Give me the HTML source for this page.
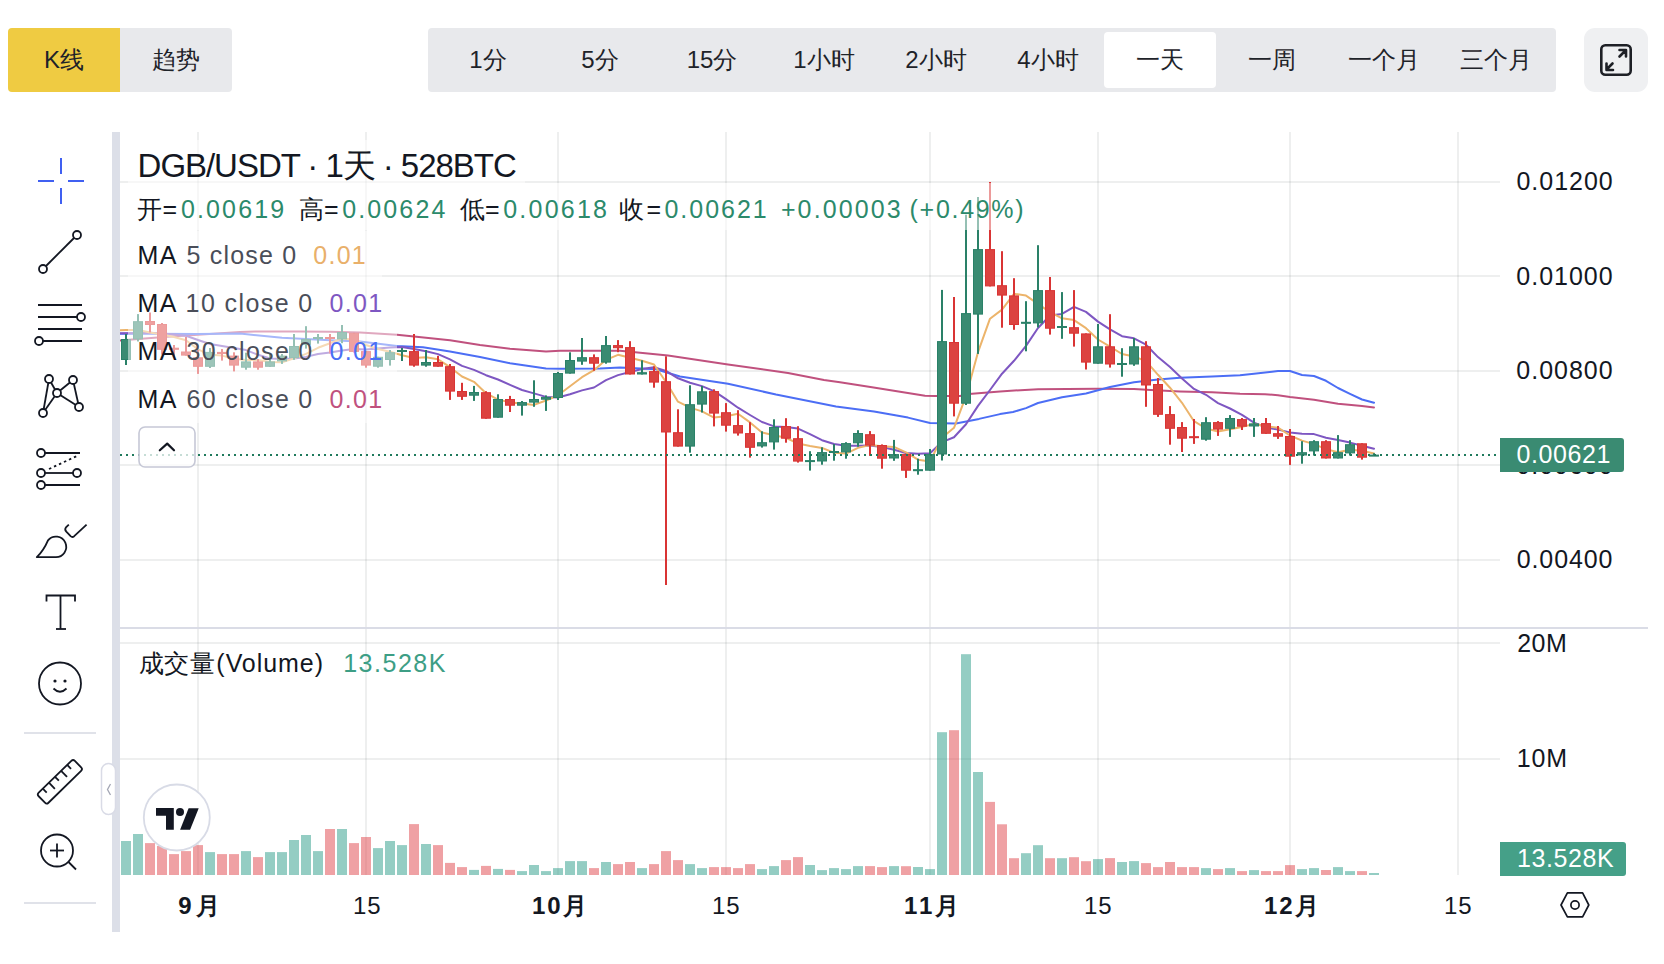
<!DOCTYPE html>
<html><head><meta charset="utf-8"><title>DGB/USDT</title>
<style>
*{box-sizing:border-box;margin:0;padding:0}
html,body{width:1664px;height:964px;overflow:hidden;background:#fff}
body{position:relative;font-family:"Liberation Sans",sans-serif;color:#131722}
.abs{position:absolute}
.chart,.icons{position:absolute;left:0;top:0}
.btn{position:absolute;top:28px;height:64px;line-height:64px;text-align:center;font-size:24px;color:#1e2329}
.per{position:absolute;top:28px;height:64px;line-height:64px;width:112px;text-align:center;font-size:24px;color:#1e2329}
.ov{position:absolute;background:rgba(255,255,255,0.5)}
.t{position:absolute;white-space:nowrap;line-height:1}
.lg{font-size:25px;color:#4a4e59}
.lg b{font-weight:normal;color:#131722}
.ax{position:absolute;font-size:24px;color:#131722;white-space:nowrap;line-height:1}
.g{color:#2c8a6b}
</style></head><body>
<!-- top toolbar -->
<div class="btn" style="left:8px;width:112px;background:#efcb42;border-radius:4px 0 0 4px">K线</div>
<div class="btn" style="left:120px;width:112px;background:#e8e9ec;border-radius:0 4px 4px 0">趋势</div>
<div class="abs" style="left:428px;top:28px;width:1128px;height:64px;background:#e8e9ec;border-radius:4px"></div>
<div class="abs" style="left:1104px;top:32px;width:112px;height:56px;background:#fff;border-radius:4px"></div>
<div class="per" style="left:432px">1分</div>
<div class="per" style="left:544px">5分</div>
<div class="per" style="left:656px">15分</div>
<div class="per" style="left:768px">1小时</div>
<div class="per" style="left:880px">2小时</div>
<div class="per" style="left:992px">4小时</div>
<div class="per" style="left:1104px">一天</div>
<div class="per" style="left:1216px">一周</div>
<div class="per" style="left:1328px">一个月</div>
<div class="per" style="left:1440px">三个月</div>
<div class="abs" style="left:1584px;top:28px;width:64px;height:64px;background:#eff0f2;border-radius:11px"></div>
<!-- sidebar bar -->
<div class="abs" style="left:112px;top:132px;width:8px;height:800px;background:#dcdfe8"></div>
<svg class="chart" width="1664" height="964" viewBox="0 0 1664 964">
<rect x="197" y="132" width="2" height="743" fill="rgba(0,20,10,0.067)"/>
<rect x="365" y="132" width="2" height="743" fill="rgba(0,20,10,0.067)"/>
<rect x="557" y="132" width="2" height="743" fill="rgba(0,20,10,0.067)"/>
<rect x="725" y="132" width="2" height="743" fill="rgba(0,20,10,0.067)"/>
<rect x="929" y="132" width="2" height="743" fill="rgba(0,20,10,0.067)"/>
<rect x="1097" y="132" width="2" height="743" fill="rgba(0,20,10,0.067)"/>
<rect x="1289" y="132" width="2" height="743" fill="rgba(0,20,10,0.067)"/>
<rect x="1457" y="132" width="2" height="743" fill="rgba(0,20,10,0.067)"/>
<rect x="120" y="181" width="1380" height="2" fill="rgba(0,20,10,0.067)"/>
<rect x="120" y="275" width="1380" height="2" fill="rgba(0,20,10,0.067)"/>
<rect x="120" y="370" width="1380" height="2" fill="rgba(0,20,10,0.067)"/>
<rect x="120" y="464" width="1380" height="2" fill="rgba(0,20,10,0.067)"/>
<rect x="120" y="559" width="1380" height="2" fill="rgba(0,20,10,0.067)"/>
<rect x="120" y="642" width="1380" height="2" fill="rgba(0,20,10,0.067)"/>
<rect x="120" y="758" width="1380" height="2" fill="rgba(0,20,10,0.067)"/>
<rect x="120" y="627" width="1528" height="2" fill="#dadce6"/>
<rect x="121" y="841" width="10" height="34" fill="rgba(41,155,135,0.5)"/>
<rect x="133" y="834" width="10" height="41" fill="rgba(41,155,135,0.5)"/>
<rect x="145" y="843.1" width="10" height="31.9" fill="rgba(223,67,73,0.5)"/>
<rect x="157" y="846" width="10" height="29" fill="rgba(223,67,73,0.5)"/>
<rect x="169" y="854.1" width="10" height="20.9" fill="rgba(223,67,73,0.5)"/>
<rect x="181" y="851.1" width="10" height="23.9" fill="rgba(223,67,73,0.5)"/>
<rect x="193" y="845.1" width="10" height="29.9" fill="rgba(223,67,73,0.5)"/>
<rect x="205" y="852.1" width="10" height="22.9" fill="rgba(41,155,135,0.5)"/>
<rect x="217" y="854.1" width="10" height="20.9" fill="rgba(223,67,73,0.5)"/>
<rect x="229" y="854.1" width="10" height="20.9" fill="rgba(223,67,73,0.5)"/>
<rect x="241" y="851.1" width="10" height="23.9" fill="rgba(41,155,135,0.5)"/>
<rect x="253" y="857.1" width="10" height="17.9" fill="rgba(223,67,73,0.5)"/>
<rect x="265" y="852.1" width="10" height="22.9" fill="rgba(41,155,135,0.5)"/>
<rect x="277" y="852.1" width="10" height="22.9" fill="rgba(41,155,135,0.5)"/>
<rect x="289" y="840" width="10" height="35" fill="rgba(41,155,135,0.5)"/>
<rect x="301" y="835" width="10" height="40" fill="rgba(41,155,135,0.5)"/>
<rect x="313" y="851.1" width="10" height="23.9" fill="rgba(41,155,135,0.5)"/>
<rect x="325" y="829" width="10" height="46" fill="rgba(223,67,73,0.5)"/>
<rect x="337" y="829" width="10" height="46" fill="rgba(41,155,135,0.5)"/>
<rect x="349" y="843.1" width="10" height="31.9" fill="rgba(223,67,73,0.5)"/>
<rect x="361" y="837" width="10" height="38" fill="rgba(223,67,73,0.5)"/>
<rect x="373" y="848.1" width="10" height="26.9" fill="rgba(41,155,135,0.5)"/>
<rect x="385" y="841" width="10" height="34" fill="rgba(41,155,135,0.5)"/>
<rect x="397" y="845.1" width="10" height="29.9" fill="rgba(41,155,135,0.5)"/>
<rect x="409" y="824.1" width="10" height="50.9" fill="rgba(223,67,73,0.5)"/>
<rect x="421" y="844" width="10" height="31" fill="rgba(41,155,135,0.5)"/>
<rect x="433" y="845.1" width="10" height="29.9" fill="rgba(223,67,73,0.5)"/>
<rect x="445" y="862.9" width="10" height="12.1" fill="rgba(223,67,73,0.5)"/>
<rect x="457" y="867.1" width="10" height="7.9" fill="rgba(223,67,73,0.5)"/>
<rect x="469" y="869.9" width="10" height="5.1" fill="rgba(41,155,135,0.5)"/>
<rect x="481" y="865.9" width="10" height="9.1" fill="rgba(223,67,73,0.5)"/>
<rect x="493" y="868.9" width="10" height="6.1" fill="rgba(41,155,135,0.5)"/>
<rect x="505" y="869.9" width="10" height="5.1" fill="rgba(223,67,73,0.5)"/>
<rect x="517" y="871.1" width="10" height="3.9" fill="rgba(41,155,135,0.5)"/>
<rect x="529" y="865" width="10" height="10" fill="rgba(41,155,135,0.5)"/>
<rect x="541" y="871.1" width="10" height="3.9" fill="rgba(41,155,135,0.5)"/>
<rect x="553" y="868.1" width="10" height="6.9" fill="rgba(41,155,135,0.5)"/>
<rect x="565" y="861.1" width="10" height="13.9" fill="rgba(41,155,135,0.5)"/>
<rect x="577" y="861.1" width="10" height="13.9" fill="rgba(41,155,135,0.5)"/>
<rect x="589" y="868.1" width="10" height="6.9" fill="rgba(223,67,73,0.5)"/>
<rect x="601" y="862" width="10" height="13" fill="rgba(41,155,135,0.5)"/>
<rect x="613" y="864.1" width="10" height="10.9" fill="rgba(223,67,73,0.5)"/>
<rect x="625" y="862" width="10" height="13" fill="rgba(223,67,73,0.5)"/>
<rect x="637" y="868.1" width="10" height="6.9" fill="rgba(41,155,135,0.5)"/>
<rect x="649" y="864.1" width="10" height="10.9" fill="rgba(223,67,73,0.5)"/>
<rect x="661" y="851.1" width="10" height="23.9" fill="rgba(223,67,73,0.5)"/>
<rect x="673" y="860.1" width="10" height="14.9" fill="rgba(223,67,73,0.5)"/>
<rect x="685" y="864.1" width="10" height="10.9" fill="rgba(41,155,135,0.5)"/>
<rect x="697" y="868.1" width="10" height="6.9" fill="rgba(41,155,135,0.5)"/>
<rect x="709" y="867.1" width="10" height="7.9" fill="rgba(223,67,73,0.5)"/>
<rect x="721" y="867.1" width="10" height="7.9" fill="rgba(223,67,73,0.5)"/>
<rect x="733" y="868.1" width="10" height="6.9" fill="rgba(223,67,73,0.5)"/>
<rect x="745" y="864.1" width="10" height="10.9" fill="rgba(223,67,73,0.5)"/>
<rect x="757" y="869.1" width="10" height="5.9" fill="rgba(41,155,135,0.5)"/>
<rect x="769" y="866.1" width="10" height="8.9" fill="rgba(41,155,135,0.5)"/>
<rect x="781" y="860.1" width="10" height="14.9" fill="rgba(223,67,73,0.5)"/>
<rect x="793" y="857.1" width="10" height="17.9" fill="rgba(223,67,73,0.5)"/>
<rect x="805" y="865" width="10" height="10" fill="rgba(41,155,135,0.5)"/>
<rect x="817" y="870.1" width="10" height="4.9" fill="rgba(41,155,135,0.5)"/>
<rect x="829" y="868.1" width="10" height="6.9" fill="rgba(41,155,135,0.5)"/>
<rect x="841" y="869.1" width="10" height="5.9" fill="rgba(41,155,135,0.5)"/>
<rect x="853" y="866.1" width="10" height="8.9" fill="rgba(41,155,135,0.5)"/>
<rect x="865" y="866.1" width="10" height="8.9" fill="rgba(223,67,73,0.5)"/>
<rect x="877" y="867.1" width="10" height="7.9" fill="rgba(223,67,73,0.5)"/>
<rect x="889" y="866.1" width="10" height="8.9" fill="rgba(41,155,135,0.5)"/>
<rect x="901" y="866.2" width="10" height="8.8" fill="rgba(223,67,73,0.5)"/>
<rect x="913" y="867" width="10" height="8" fill="rgba(41,155,135,0.5)"/>
<rect x="925" y="869.1" width="10" height="5.9" fill="rgba(41,155,135,0.5)"/>
<rect x="937" y="732.2" width="10" height="142.8" fill="rgba(41,155,135,0.5)"/>
<rect x="949" y="730.2" width="10" height="144.8" fill="rgba(223,67,73,0.5)"/>
<rect x="961" y="654.2" width="10" height="220.8" fill="rgba(41,155,135,0.5)"/>
<rect x="973" y="772" width="10" height="103" fill="rgba(41,155,135,0.5)"/>
<rect x="985" y="801.9" width="10" height="73.1" fill="rgba(223,67,73,0.5)"/>
<rect x="997" y="824.3" width="10" height="50.7" fill="rgba(223,67,73,0.5)"/>
<rect x="1009" y="858.2" width="10" height="16.8" fill="rgba(223,67,73,0.5)"/>
<rect x="1021" y="853.2" width="10" height="21.8" fill="rgba(41,155,135,0.5)"/>
<rect x="1033" y="845.2" width="10" height="29.8" fill="rgba(41,155,135,0.5)"/>
<rect x="1045" y="858.2" width="10" height="16.8" fill="rgba(223,67,73,0.5)"/>
<rect x="1057" y="858.2" width="10" height="16.8" fill="rgba(41,155,135,0.5)"/>
<rect x="1069" y="857.2" width="10" height="17.8" fill="rgba(223,67,73,0.5)"/>
<rect x="1081" y="861.2" width="10" height="13.8" fill="rgba(223,67,73,0.5)"/>
<rect x="1093" y="859.1" width="10" height="15.9" fill="rgba(41,155,135,0.5)"/>
<rect x="1105" y="858.1" width="10" height="16.9" fill="rgba(223,67,73,0.5)"/>
<rect x="1117" y="862" width="10" height="13" fill="rgba(41,155,135,0.5)"/>
<rect x="1129" y="861.1" width="10" height="13.9" fill="rgba(41,155,135,0.5)"/>
<rect x="1141" y="863.1" width="10" height="11.9" fill="rgba(223,67,73,0.5)"/>
<rect x="1153" y="867.1" width="10" height="7.9" fill="rgba(223,67,73,0.5)"/>
<rect x="1165" y="862" width="10" height="13" fill="rgba(223,67,73,0.5)"/>
<rect x="1177" y="867.1" width="10" height="7.9" fill="rgba(223,67,73,0.5)"/>
<rect x="1189" y="867.1" width="10" height="7.9" fill="rgba(223,67,73,0.5)"/>
<rect x="1201" y="868.1" width="10" height="6.9" fill="rgba(41,155,135,0.5)"/>
<rect x="1213" y="869.1" width="10" height="5.9" fill="rgba(223,67,73,0.5)"/>
<rect x="1225" y="868.1" width="10" height="6.9" fill="rgba(41,155,135,0.5)"/>
<rect x="1237" y="871.1" width="10" height="3.9" fill="rgba(223,67,73,0.5)"/>
<rect x="1249" y="870.1" width="10" height="4.9" fill="rgba(41,155,135,0.5)"/>
<rect x="1261" y="871.1" width="10" height="3.9" fill="rgba(223,67,73,0.5)"/>
<rect x="1273" y="871.1" width="10" height="3.9" fill="rgba(223,67,73,0.5)"/>
<rect x="1285" y="865.1" width="10" height="9.9" fill="rgba(223,67,73,0.5)"/>
<rect x="1297" y="869.1" width="10" height="5.9" fill="rgba(41,155,135,0.5)"/>
<rect x="1309" y="868.1" width="10" height="6.9" fill="rgba(41,155,135,0.5)"/>
<rect x="1321" y="870" width="10" height="5" fill="rgba(223,67,73,0.5)"/>
<rect x="1333" y="867.1" width="10" height="7.9" fill="rgba(41,155,135,0.5)"/>
<rect x="1345" y="871.1" width="10" height="3.9" fill="rgba(41,155,135,0.5)"/>
<rect x="1357" y="871.1" width="10" height="3.9" fill="rgba(223,67,73,0.5)"/>
<rect x="1369" y="873" width="10" height="2" fill="rgba(41,155,135,0.5)"/>
<defs><clipPath id="cp"><rect x="120" y="132" width="1380" height="495"/></clipPath></defs>
<g fill="none" stroke-width="2" stroke-linejoin="round" stroke-linecap="round" clip-path="url(#cp)">
<polyline points="114,340.8 126,340 167,336.8 198,334.8 240,332 255,331.6 300,331.5 330,331.7 360,332.4 397,334.7 414,336.6 450,340.3 480,345 510,348.7 546,351.5 560,350.8 620,350.8 668,355.6 728,364.5 788,372.9 824,380 840,382.3 872,387.3 925,395.7 935,396 960,396 969,393.9 1000,391.4 1038,389.2 1097,388.7 1134,389 1151,390 1180,391.4 1212,392.3 1240,393.8 1265,394.2 1278,395.2 1290,397.1 1314,399.8 1338,403.7 1362,406 1374,407.5" stroke="#c0517e"/>
<polyline points="114,334 126,333.5 150,333.8 198,334 240,333.6 282,337.8 306,339 330,340.3 360,341.5 397,346 423,347.3 450,351.5 480,357 510,363.2 546,368.4 560,368.8 600,368.6 620,367.4 656,369.3 680,376.5 728,383.7 776,394.5 836,406.5 874,411.4 908,417.6 930,423 956,423.4 979,418.9 1000,414.1 1013,412 1026,408.1 1038,403 1062,397.3 1086,393.5 1110,387 1134,382.2 1158,379.5 1180,377.8 1212,376.4 1240,375.2 1254,373.8 1278,371 1290,371 1302,375 1314,376 1326,380.8 1338,388 1350,393.8 1362,399.5 1374,402.7" stroke="#4c6ef5"/>
<polyline points="114,333.2 126,333.2 138,333 150,332.8 162,333.5 174,334.5 186,335.7 198,340 210,344 222,346 234,347.9 246,350.1 258,354.8 270,358.4 282,359 294,358.6 306,356.9 318,354 330,352.6 342,350.4 354,349.1 366,349.5 378,348.4 390,347.5 402,346.9 414,348.9 426,351.2 438,354.1 450,359.4 462,365.9 474,369.9 486,375.2 498,379.5 510,384.8 522,390 534,393.4 546,396.9 558,397.5 570,394.3 582,390.4 594,387.5 606,380.2 618,375.1 630,372 642,369 654,367.3 666,370.9 678,378.3 690,382.7 702,386.1 714,391.1 726,399.1 738,407.7 750,415 762,422 774,426.4 786,427.1 798,428.6 810,434.1 822,440.2 834,444 846,445.7 858,445.7 870,445.4 882,447.1 894,449.8 906,453 918,453.8 930,453.2 942,442.1 954,437.3 966,424.3 978,405.9 990,390 1002,373.7 1014,360.8 1026,345.9 1038,328 1050,315.5 1062,313.9 1074,306.9 1086,311.9 1098,321.6 1110,329.4 1122,336.2 1134,338.3 1146,344.7 1158,357.1 1170,367.1 1182,378.4 1194,388.9 1206,394.8 1218,403.1 1230,408.5 1242,414.9 1254,422.6 1266,427.4 1278,429.6 1290,432.4 1302,433.7 1314,434.1 1326,437.7 1338,439.9 1350,442.6 1362,445.7 1374,448.8" stroke="#7e57c2"/>
<polyline points="114,330.6 126,330 138,330 150,332.5 162,334.5 174,337 186,340.3 198,349.4 210,354.8 222,355.6 234,358.8 246,359.9 258,360.1 270,362 282,362.3 294,358.4 306,353.9 318,347.8 330,343.2 342,338.5 354,339.7 366,345 378,349 390,351.7 402,355.3 414,358 426,357.3 438,359.3 450,367.2 462,376.5 474,381.8 486,393.2 498,399.6 510,402.4 522,403.5 534,404.9 546,400.5 558,395.3 570,386.2 582,377.2 594,370.2 606,359.8 618,354.8 630,357.7 642,360.7 654,364.5 666,382 678,401.7 690,407.6 702,411.4 714,417.6 726,416.3 738,413.7 750,422.4 762,432.6 774,435.2 786,437.8 798,443.5 810,445.9 822,447.9 834,452.7 846,453.6 858,447.9 870,445 882,446.3 894,446.9 906,452.4 918,459.7 930,461.4 942,437.8 954,427.8 966,396.2 978,352.2 990,318.7 1002,309.6 1014,293.8 1026,295.6 1038,303.8 1050,312.2 1062,318.3 1074,320.1 1086,328.2 1098,339.5 1110,346.6 1122,354 1134,356.5 1146,361.1 1158,374.8 1170,387.7 1182,402.8 1194,421.2 1206,428.5 1218,431.5 1230,429.3 1242,426.9 1254,424 1266,426.3 1278,427.7 1290,435.5 1302,440.6 1314,444.1 1326,449.1 1338,452.2 1350,449.7 1362,450.8 1374,453.4" stroke="#ecb46b"/>
</g>
<rect x="125" y="334" width="2" height="31" fill="#2a8168"/>
<rect x="121.5" y="339.5" width="9" height="20" fill="#3a8b72" stroke="#2a8168" stroke-width="1"/>
<rect x="137" y="314.1" width="2" height="27.4" fill="#2a8168"/>
<rect x="133.5" y="321.7" width="9" height="17.2" fill="#3a8b72" stroke="#2a8168" stroke-width="1"/>
<rect x="149" y="312.5" width="2" height="19.9" fill="#d93434"/>
<rect x="145.5" y="321.5" width="9" height="3" fill="#dc4340" stroke="#d93434" stroke-width="1"/>
<rect x="161" y="323" width="2" height="31.6" fill="#d93434"/>
<rect x="157.5" y="324.5" width="9" height="24.8" fill="#dc4340" stroke="#d93434" stroke-width="1"/>
<rect x="173" y="345" width="2" height="12.7" fill="#d93434"/>
<rect x="169.5" y="348.2" width="9" height="1.1" fill="#dc4340" stroke="#d93434" stroke-width="1"/>
<rect x="185" y="337" width="2" height="18.6" fill="#d93434"/>
<rect x="181.5" y="352" width="9" height="3.1" fill="#dc4340" stroke="#d93434" stroke-width="1"/>
<rect x="197" y="349.8" width="2" height="24.1" fill="#d93434"/>
<rect x="193.5" y="357.8" width="9" height="8.5" fill="#dc4340" stroke="#d93434" stroke-width="1"/>
<rect x="209" y="348" width="2" height="20" fill="#2a8168"/>
<rect x="205.5" y="352.4" width="9" height="13.9" fill="#3a8b72" stroke="#2a8168" stroke-width="1"/>
<rect x="221" y="349" width="2" height="11.6" fill="#d93434"/>
<rect x="217.5" y="352.4" width="9" height="1.1" fill="#dc4340" stroke="#d93434" stroke-width="1"/>
<rect x="233" y="352.3" width="2" height="19.1" fill="#d93434"/>
<rect x="229.5" y="356.1" width="9" height="9" fill="#dc4340" stroke="#d93434" stroke-width="1"/>
<rect x="245" y="352.7" width="2" height="17" fill="#2a8168"/>
<rect x="241.5" y="361.9" width="9" height="5.3" fill="#3a8b72" stroke="#2a8168" stroke-width="1"/>
<rect x="257" y="359" width="2" height="10.7" fill="#d93434"/>
<rect x="253.5" y="361.9" width="9" height="5.3" fill="#dc4340" stroke="#d93434" stroke-width="1"/>
<rect x="269" y="354" width="2" height="12.8" fill="#2a8168"/>
<rect x="265.5" y="361.9" width="9" height="4.4" fill="#3a8b72" stroke="#2a8168" stroke-width="1"/>
<rect x="281" y="354" width="2" height="9.9" fill="#2a8168"/>
<rect x="277.5" y="356.1" width="9" height="4.8" fill="#3a8b72" stroke="#2a8168" stroke-width="1"/>
<rect x="293" y="334" width="2" height="25.8" fill="#2a8168"/>
<rect x="289.5" y="346.5" width="9" height="11.1" fill="#3a8b72" stroke="#2a8168" stroke-width="1"/>
<rect x="305" y="326.2" width="2" height="22.4" fill="#2a8168"/>
<rect x="301.5" y="339.5" width="9" height="4.8" fill="#3a8b72" stroke="#2a8168" stroke-width="1"/>
<rect x="317" y="334" width="2" height="9.6" fill="#2a8168"/>
<rect x="313.5" y="337.5" width="9" height="1" fill="#3a8b72" stroke="#2a8168" stroke-width="1"/>
<rect x="329" y="334" width="2" height="19.5" fill="#d93434"/>
<rect x="325.5" y="337.5" width="9" height="1" fill="#dc4340" stroke="#d93434" stroke-width="1"/>
<rect x="341" y="325" width="2" height="18.2" fill="#2a8168"/>
<rect x="337.5" y="332.5" width="9" height="6.4" fill="#3a8b72" stroke="#2a8168" stroke-width="1"/>
<rect x="353" y="332.8" width="2" height="19.7" fill="#d93434"/>
<rect x="349.5" y="333.3" width="9" height="18.1" fill="#dc4340" stroke="#d93434" stroke-width="1"/>
<rect x="365" y="351.1" width="2" height="16.6" fill="#d93434"/>
<rect x="361.5" y="351.6" width="9" height="13.5" fill="#dc4340" stroke="#d93434" stroke-width="1"/>
<rect x="377" y="356.8" width="2" height="10.9" fill="#2a8168"/>
<rect x="373.5" y="357.3" width="9" height="8.9" fill="#3a8b72" stroke="#2a8168" stroke-width="1"/>
<rect x="389" y="350" width="2" height="15.6" fill="#2a8168"/>
<rect x="385.5" y="352.7" width="9" height="6.8" fill="#3a8b72" stroke="#2a8168" stroke-width="1"/>
<rect x="401" y="348" width="2" height="13" fill="#2a8168"/>
<rect x="397.5" y="350.5" width="9" height="1" fill="#3a8b72" stroke="#2a8168" stroke-width="1"/>
<rect x="413" y="334" width="2" height="32.7" fill="#d93434"/>
<rect x="409.5" y="351.6" width="9" height="13.5" fill="#dc4340" stroke="#d93434" stroke-width="1"/>
<rect x="425" y="350" width="2" height="16.7" fill="#2a8168"/>
<rect x="421.5" y="362.5" width="9" height="2.6" fill="#3a8b72" stroke="#2a8168" stroke-width="1"/>
<rect x="437" y="355.8" width="2" height="10.9" fill="#d93434"/>
<rect x="433.5" y="362.5" width="9" height="3.7" fill="#dc4340" stroke="#d93434" stroke-width="1"/>
<rect x="449" y="364" width="2" height="35.9" fill="#d93434"/>
<rect x="445.5" y="366.7" width="9" height="24.4" fill="#dc4340" stroke="#d93434" stroke-width="1"/>
<rect x="461" y="382.8" width="2" height="17.1" fill="#d93434"/>
<rect x="457.5" y="391.5" width="9" height="4.8" fill="#dc4340" stroke="#d93434" stroke-width="1"/>
<rect x="473" y="385.9" width="2" height="15" fill="#2a8168"/>
<rect x="469.5" y="392.5" width="9" height="2.7" fill="#3a8b72" stroke="#2a8168" stroke-width="1"/>
<rect x="485" y="391.2" width="2" height="27.5" fill="#d93434"/>
<rect x="481.5" y="392.7" width="9" height="25.5" fill="#dc4340" stroke="#d93434" stroke-width="1"/>
<rect x="497" y="394.3" width="2" height="23.4" fill="#2a8168"/>
<rect x="493.5" y="399.5" width="9" height="17.7" fill="#3a8b72" stroke="#2a8168" stroke-width="1"/>
<rect x="509" y="395.9" width="2" height="16.1" fill="#d93434"/>
<rect x="505.5" y="399.5" width="9" height="5.7" fill="#dc4340" stroke="#d93434" stroke-width="1"/>
<rect x="521" y="401" width="2" height="14.6" fill="#2a8168"/>
<rect x="517.5" y="402.6" width="9" height="2.6" fill="#3a8b72" stroke="#2a8168" stroke-width="1"/>
<rect x="533" y="380.3" width="2" height="26.5" fill="#2a8168"/>
<rect x="529.5" y="399.5" width="9" height="2.6" fill="#3a8b72" stroke="#2a8168" stroke-width="1"/>
<rect x="545" y="395.4" width="2" height="15.5" fill="#2a8168"/>
<rect x="541.5" y="397.4" width="9" height="1.8" fill="#3a8b72" stroke="#2a8168" stroke-width="1"/>
<rect x="557" y="372" width="2" height="28" fill="#2a8168"/>
<rect x="553.5" y="373.5" width="9" height="24" fill="#3a8b72" stroke="#2a8168" stroke-width="1"/>
<rect x="569" y="352.3" width="2" height="21.3" fill="#2a8168"/>
<rect x="565.5" y="360.5" width="9" height="12.6" fill="#3a8b72" stroke="#2a8168" stroke-width="1"/>
<rect x="581" y="338" width="2" height="26.8" fill="#2a8168"/>
<rect x="577.5" y="357.7" width="9" height="3.4" fill="#3a8b72" stroke="#2a8168" stroke-width="1"/>
<rect x="593" y="354.4" width="2" height="16.3" fill="#d93434"/>
<rect x="589.5" y="357.7" width="9" height="5.5" fill="#dc4340" stroke="#d93434" stroke-width="1"/>
<rect x="605" y="336" width="2" height="27.7" fill="#2a8168"/>
<rect x="601.5" y="345.6" width="9" height="16.5" fill="#3a8b72" stroke="#2a8168" stroke-width="1"/>
<rect x="617" y="340.1" width="2" height="12.1" fill="#d93434"/>
<rect x="613.5" y="345.6" width="9" height="2.1" fill="#dc4340" stroke="#d93434" stroke-width="1"/>
<rect x="629" y="341.2" width="2" height="33.3" fill="#d93434"/>
<rect x="625.5" y="347.6" width="9" height="26.4" fill="#dc4340" stroke="#d93434" stroke-width="1"/>
<rect x="641" y="360.3" width="2" height="14.2" fill="#2a8168"/>
<rect x="637.5" y="372.7" width="9" height="1.3" fill="#3a8b72" stroke="#2a8168" stroke-width="1"/>
<rect x="653" y="366.4" width="2" height="21.3" fill="#d93434"/>
<rect x="649.5" y="371.6" width="9" height="10.5" fill="#dc4340" stroke="#d93434" stroke-width="1"/>
<rect x="665" y="356.3" width="2" height="228.7" fill="#d93434"/>
<rect x="661.5" y="381.7" width="9" height="50.3" fill="#dc4340" stroke="#d93434" stroke-width="1"/>
<rect x="677" y="409.3" width="2" height="37.3" fill="#d93434"/>
<rect x="673.5" y="432.7" width="9" height="13.4" fill="#dc4340" stroke="#d93434" stroke-width="1"/>
<rect x="689" y="385.3" width="2" height="67.4" fill="#2a8168"/>
<rect x="685.5" y="404.7" width="9" height="41.4" fill="#3a8b72" stroke="#2a8168" stroke-width="1"/>
<rect x="701" y="386" width="2" height="26.5" fill="#2a8168"/>
<rect x="697.5" y="391.8" width="9" height="12.3" fill="#3a8b72" stroke="#2a8168" stroke-width="1"/>
<rect x="713" y="389.3" width="2" height="37.1" fill="#d93434"/>
<rect x="709.5" y="391.6" width="9" height="21.5" fill="#dc4340" stroke="#d93434" stroke-width="1"/>
<rect x="725" y="403.1" width="2" height="28.5" fill="#d93434"/>
<rect x="721.5" y="412.7" width="9" height="12.5" fill="#dc4340" stroke="#d93434" stroke-width="1"/>
<rect x="737" y="410.2" width="2" height="25.4" fill="#d93434"/>
<rect x="733.5" y="425.6" width="9" height="7.4" fill="#dc4340" stroke="#d93434" stroke-width="1"/>
<rect x="749" y="422.2" width="2" height="35.4" fill="#d93434"/>
<rect x="745.5" y="433.6" width="9" height="13.7" fill="#dc4340" stroke="#d93434" stroke-width="1"/>
<rect x="761" y="431.3" width="2" height="16.3" fill="#2a8168"/>
<rect x="757.5" y="442.7" width="9" height="3.2" fill="#3a8b72" stroke="#2a8168" stroke-width="1"/>
<rect x="773" y="419.3" width="2" height="30.3" fill="#2a8168"/>
<rect x="769.5" y="427.5" width="9" height="14.4" fill="#3a8b72" stroke="#2a8168" stroke-width="1"/>
<rect x="785" y="418.2" width="2" height="24.5" fill="#d93434"/>
<rect x="781.5" y="426.6" width="9" height="11.6" fill="#dc4340" stroke="#d93434" stroke-width="1"/>
<rect x="797" y="426.2" width="2" height="36.4" fill="#d93434"/>
<rect x="793.5" y="438.7" width="9" height="22.4" fill="#dc4340" stroke="#d93434" stroke-width="1"/>
<rect x="809" y="451.2" width="2" height="19.4" fill="#2a8168"/>
<rect x="805.5" y="460.6" width="9" height="1" fill="#3a8b72" stroke="#2a8168" stroke-width="1"/>
<rect x="821" y="447.3" width="2" height="17.4" fill="#2a8168"/>
<rect x="817.5" y="452.6" width="9" height="8.4" fill="#3a8b72" stroke="#2a8168" stroke-width="1"/>
<rect x="833" y="444.1" width="2" height="16.6" fill="#2a8168"/>
<rect x="829.5" y="451.5" width="9" height="1" fill="#3a8b72" stroke="#2a8168" stroke-width="1"/>
<rect x="845" y="442.2" width="2" height="16.5" fill="#2a8168"/>
<rect x="841.5" y="443.6" width="9" height="8.3" fill="#3a8b72" stroke="#2a8168" stroke-width="1"/>
<rect x="857" y="430.2" width="2" height="16.5" fill="#2a8168"/>
<rect x="853.5" y="433.5" width="9" height="9.3" fill="#3a8b72" stroke="#2a8168" stroke-width="1"/>
<rect x="869" y="431.1" width="2" height="24.8" fill="#d93434"/>
<rect x="865.5" y="434.7" width="9" height="10.4" fill="#dc4340" stroke="#d93434" stroke-width="1"/>
<rect x="881" y="444.4" width="2" height="24.3" fill="#d93434"/>
<rect x="877.5" y="445.5" width="9" height="12.7" fill="#dc4340" stroke="#d93434" stroke-width="1"/>
<rect x="893" y="439.9" width="2" height="20.9" fill="#2a8168"/>
<rect x="889.5" y="454.6" width="9" height="3.4" fill="#3a8b72" stroke="#2a8168" stroke-width="1"/>
<rect x="905" y="453.9" width="2" height="24" fill="#d93434"/>
<rect x="901.5" y="454.4" width="9" height="15.8" fill="#dc4340" stroke="#d93434" stroke-width="1"/>
<rect x="917" y="458.7" width="2" height="16" fill="#2a8168"/>
<rect x="913.5" y="469.7" width="9" height="1" fill="#3a8b72" stroke="#2a8168" stroke-width="1"/>
<rect x="929" y="449" width="2" height="21.7" fill="#2a8168"/>
<rect x="925.5" y="454.6" width="9" height="15.6" fill="#3a8b72" stroke="#2a8168" stroke-width="1"/>
<rect x="941" y="289.9" width="2" height="170.6" fill="#2a8168"/>
<rect x="937.5" y="341.6" width="9" height="112.4" fill="#3a8b72" stroke="#2a8168" stroke-width="1"/>
<rect x="953" y="297" width="2" height="119.4" fill="#d93434"/>
<rect x="949.5" y="342.5" width="9" height="60.7" fill="#dc4340" stroke="#d93434" stroke-width="1"/>
<rect x="965" y="214.7" width="2" height="190.3" fill="#2a8168"/>
<rect x="961.5" y="313.6" width="9" height="89.6" fill="#3a8b72" stroke="#2a8168" stroke-width="1"/>
<rect x="977" y="197" width="2" height="156.9" fill="#2a8168"/>
<rect x="973.5" y="249.6" width="9" height="64.5" fill="#3a8b72" stroke="#2a8168" stroke-width="1"/>
<rect x="989" y="182" width="2" height="104.4" fill="#d93434"/>
<rect x="985.5" y="249.6" width="9" height="36.3" fill="#dc4340" stroke="#d93434" stroke-width="1"/>
<rect x="1001" y="251.2" width="2" height="76.5" fill="#d93434"/>
<rect x="997.5" y="285.7" width="9" height="9.4" fill="#dc4340" stroke="#d93434" stroke-width="1"/>
<rect x="1013" y="278.2" width="2" height="51.6" fill="#d93434"/>
<rect x="1009.5" y="295.9" width="9" height="28.6" fill="#dc4340" stroke="#d93434" stroke-width="1"/>
<rect x="1025" y="301.2" width="2" height="50.1" fill="#2a8168"/>
<rect x="1021.5" y="322.3" width="9" height="1" fill="#3a8b72" stroke="#2a8168" stroke-width="1"/>
<rect x="1037" y="245.2" width="2" height="82.2" fill="#2a8168"/>
<rect x="1033.5" y="290.6" width="9" height="32.3" fill="#3a8b72" stroke="#2a8168" stroke-width="1"/>
<rect x="1049" y="277" width="2" height="57.6" fill="#d93434"/>
<rect x="1045.5" y="290.6" width="9" height="37.6" fill="#dc4340" stroke="#d93434" stroke-width="1"/>
<rect x="1061" y="292.1" width="2" height="46.7" fill="#2a8168"/>
<rect x="1057.5" y="326.5" width="9" height="1" fill="#3a8b72" stroke="#2a8168" stroke-width="1"/>
<rect x="1073" y="290.1" width="2" height="56.5" fill="#d93434"/>
<rect x="1069.5" y="327.7" width="9" height="5.5" fill="#dc4340" stroke="#d93434" stroke-width="1"/>
<rect x="1085" y="333.4" width="2" height="36.1" fill="#d93434"/>
<rect x="1081.5" y="333.9" width="9" height="28.2" fill="#dc4340" stroke="#d93434" stroke-width="1"/>
<rect x="1097" y="324" width="2" height="39.7" fill="#2a8168"/>
<rect x="1093.5" y="346.8" width="9" height="16.4" fill="#3a8b72" stroke="#2a8168" stroke-width="1"/>
<rect x="1109" y="314.2" width="2" height="53.4" fill="#d93434"/>
<rect x="1105.5" y="346.8" width="9" height="17.2" fill="#dc4340" stroke="#d93434" stroke-width="1"/>
<rect x="1121" y="348.2" width="2" height="28.5" fill="#2a8168"/>
<rect x="1117.5" y="363.5" width="9" height="1" fill="#3a8b72" stroke="#2a8168" stroke-width="1"/>
<rect x="1133" y="338" width="2" height="27.8" fill="#2a8168"/>
<rect x="1129.5" y="346.8" width="9" height="17.2" fill="#3a8b72" stroke="#2a8168" stroke-width="1"/>
<rect x="1145" y="341.2" width="2" height="65.6" fill="#d93434"/>
<rect x="1141.5" y="346.8" width="9" height="38.2" fill="#dc4340" stroke="#d93434" stroke-width="1"/>
<rect x="1157" y="378.1" width="2" height="38.8" fill="#d93434"/>
<rect x="1153.5" y="384.5" width="9" height="29.8" fill="#dc4340" stroke="#d93434" stroke-width="1"/>
<rect x="1169" y="406.1" width="2" height="38.6" fill="#d93434"/>
<rect x="1165.5" y="414.6" width="9" height="13.7" fill="#dc4340" stroke="#d93434" stroke-width="1"/>
<rect x="1181" y="422.1" width="2" height="29.9" fill="#d93434"/>
<rect x="1177.5" y="427.5" width="9" height="10.7" fill="#dc4340" stroke="#d93434" stroke-width="1"/>
<rect x="1193" y="419" width="2" height="24.9" fill="#d93434"/>
<rect x="1189.5" y="436.7" width="9" height="1" fill="#dc4340" stroke="#d93434" stroke-width="1"/>
<rect x="1205" y="417.2" width="2" height="23.5" fill="#2a8168"/>
<rect x="1201.5" y="422.7" width="9" height="16.5" fill="#3a8b72" stroke="#2a8168" stroke-width="1"/>
<rect x="1217" y="421.1" width="2" height="14.8" fill="#d93434"/>
<rect x="1213.5" y="422.6" width="9" height="6.5" fill="#dc4340" stroke="#d93434" stroke-width="1"/>
<rect x="1229" y="415.1" width="2" height="21.8" fill="#2a8168"/>
<rect x="1225.5" y="418.5" width="9" height="9.8" fill="#3a8b72" stroke="#2a8168" stroke-width="1"/>
<rect x="1241" y="418" width="2" height="12" fill="#d93434"/>
<rect x="1237.5" y="419.6" width="9" height="6.6" fill="#dc4340" stroke="#d93434" stroke-width="1"/>
<rect x="1253" y="418" width="2" height="18.9" fill="#2a8168"/>
<rect x="1249.5" y="423.9" width="9" height="2.1" fill="#3a8b72" stroke="#2a8168" stroke-width="1"/>
<rect x="1265" y="418" width="2" height="15.8" fill="#d93434"/>
<rect x="1261.5" y="423.6" width="9" height="9.7" fill="#dc4340" stroke="#d93434" stroke-width="1"/>
<rect x="1277" y="426" width="2" height="12.9" fill="#d93434"/>
<rect x="1273.5" y="433.7" width="9" height="2.5" fill="#dc4340" stroke="#d93434" stroke-width="1"/>
<rect x="1289" y="429" width="2" height="35.9" fill="#d93434"/>
<rect x="1285.5" y="436.5" width="9" height="19.7" fill="#dc4340" stroke="#d93434" stroke-width="1"/>
<rect x="1301" y="441.2" width="2" height="22.5" fill="#2a8168"/>
<rect x="1297.5" y="452.7" width="9" height="2.3" fill="#3a8b72" stroke="#2a8168" stroke-width="1"/>
<rect x="1313" y="440.2" width="2" height="15.4" fill="#2a8168"/>
<rect x="1309.5" y="441.7" width="9" height="9.2" fill="#3a8b72" stroke="#2a8168" stroke-width="1"/>
<rect x="1325" y="440.2" width="2" height="18.3" fill="#d93434"/>
<rect x="1321.5" y="441.7" width="9" height="16.3" fill="#dc4340" stroke="#d93434" stroke-width="1"/>
<rect x="1337" y="435.1" width="2" height="23.4" fill="#2a8168"/>
<rect x="1333.5" y="452.7" width="9" height="5.3" fill="#3a8b72" stroke="#2a8168" stroke-width="1"/>
<rect x="1349" y="440.2" width="2" height="15.4" fill="#2a8168"/>
<rect x="1345.5" y="444.7" width="9" height="8.2" fill="#3a8b72" stroke="#2a8168" stroke-width="1"/>
<rect x="1361" y="443.3" width="2" height="16.3" fill="#d93434"/>
<rect x="1357.5" y="443.8" width="9" height="13.4" fill="#dc4340" stroke="#d93434" stroke-width="1"/>
<rect x="1373" y="453.2" width="2" height="2.8" fill="#2a8168"/>
<rect x="1369.5" y="455.1" width="9" height="1" fill="#3a8b72" stroke="#2a8168" stroke-width="1"/>
<line x1="120" y1="455" x2="1500" y2="455" stroke="#1f7a5c" stroke-width="2" stroke-dasharray="2 4"/>
</svg>
<div class="ov" style="left:128px;top:140px;width:397px;height:43px"></div>
<div class="ov" style="left:128px;top:183px;width:902px;height:47px"></div>
<div class="ov" style="left:128px;top:231px;width:254px;height:48px"></div>
<div class="ov" style="left:128px;top:279px;width:269px;height:48px"></div>
<div class="ov" style="left:128px;top:327px;width:269px;height:48px"></div>
<div class="ov" style="left:128px;top:375px;width:269px;height:48px"></div>
<div class="t" style="left:137.6px;top:149.3px;font-size:33px;letter-spacing:-1.04px;color:#131722">DGB/USDT · 1天 · 528BTC</div>
<div class="t" style="left:136.5px;top:197.4px;font-size:25px;letter-spacing:1.10px;color:#131722">开=</div>
<div class="t" style="left:181.0px;top:197.4px;font-size:25px;letter-spacing:2.12px;color:#2c8a6b">0.00619</div>
<div class="t" style="left:298.6px;top:197.4px;font-size:25px;letter-spacing:0.30px;color:#131722">高=</div>
<div class="t" style="left:342.2px;top:197.4px;font-size:25px;letter-spacing:2.13px;color:#2c8a6b">0.00624</div>
<div class="t" style="left:459.8px;top:197.4px;font-size:25px;letter-spacing:0.20px;color:#131722">低=</div>
<div class="t" style="left:503.2px;top:197.4px;font-size:25px;letter-spacing:2.23px;color:#2c8a6b">0.00618</div>
<div class="t" style="left:619.3px;top:197.4px;font-size:25px;letter-spacing:2.20px;color:#131722">收=</div>
<div class="t" style="left:664.4px;top:197.4px;font-size:25px;letter-spacing:2.00px;color:#2c8a6b">0.00621</div>
<div class="t" style="left:780.9px;top:197.4px;font-size:25px;letter-spacing:2.13px;color:#2c8a6b">+0.00003</div>
<div class="t" style="left:909.6px;top:197.4px;font-size:25px;letter-spacing:1.69px;color:#2c8a6b">(+0.49%)</div>
<div class="t" style="left:137.6px;top:243.2px;font-size:25px;letter-spacing:1.40px;color:#131722">MA</div>
<div class="t" style="left:186.6px;top:243.2px;font-size:25px;letter-spacing:1.18px;color:#4a4e59">5 close 0</div>
<div class="t" style="left:313.2px;top:243.2px;font-size:25px;letter-spacing:1.30px;color:#e9b06a">0.01</div>
<div class="t" style="left:137.6px;top:291.2px;font-size:25px;letter-spacing:1.40px;color:#131722">MA</div>
<div class="t" style="left:185.6px;top:291.2px;font-size:25px;letter-spacing:1.41px;color:#4a4e59">10 close 0</div>
<div class="t" style="left:329.5px;top:291.2px;font-size:25px;letter-spacing:1.30px;color:#7e57c2">0.01</div>
<div class="t" style="left:137.6px;top:339.2px;font-size:25px;letter-spacing:1.40px;color:#131722">MA</div>
<div class="t" style="left:186.6px;top:339.2px;font-size:25px;letter-spacing:1.30px;color:#4a4e59">30 close 0</div>
<div class="t" style="left:329.5px;top:339.2px;font-size:25px;letter-spacing:1.30px;color:#4a6ef5">0.01</div>
<div class="t" style="left:137.6px;top:387.2px;font-size:25px;letter-spacing:1.40px;color:#131722">MA</div>
<div class="t" style="left:186.6px;top:387.2px;font-size:25px;letter-spacing:1.30px;color:#4a4e59">60 close 0</div>
<div class="t" style="left:329.5px;top:387.2px;font-size:25px;letter-spacing:1.30px;color:#c0517e">0.01</div>
<div class="t" style="left:138.5px;top:650.8px;font-size:25px;letter-spacing:0.95px;color:#131722">成交量(Volume)</div>
<div class="t" style="left:343.2px;top:650.8px;font-size:25px;letter-spacing:1.52px;color:#3d9e85">13.528K</div>
<svg class="icons" width="1664" height="964" viewBox="0 0 1664 964">
<g fill="none" stroke-linecap="butt">
<!-- crosshair -->
<g stroke="#2b4ff0" stroke-width="1.8">
<line x1="61" y1="158" x2="61" y2="174"/><line x1="61" y1="188" x2="61" y2="204"/>
<line x1="38" y1="181" x2="54" y2="181"/><line x1="68" y1="181" x2="84" y2="181"/>
</g>
<g stroke="#131722" stroke-width="1.8">
<!-- line tool -->
<line x1="46" y1="266" x2="74" y2="238"/>
<circle cx="43" cy="269" r="4"/><circle cx="77" cy="235" r="4"/>
<!-- parallel lines -->
<line x1="38" y1="305" x2="82" y2="305"/>
<line x1="38" y1="317" x2="77" y2="317"/><circle cx="81" cy="317" r="4"/>
<line x1="38" y1="329" x2="82" y2="329"/>
<line x1="43" y1="341" x2="82" y2="341"/><circle cx="39" cy="341" r="4"/>
<!-- pattern -->
<line x1="43" y1="413" x2="49" y2="379"/>
<line x1="43" y1="413" x2="57" y2="393"/>
<line x1="49" y1="379" x2="57" y2="393"/>
<line x1="57" y1="393" x2="73" y2="380"/>
<line x1="73" y1="380" x2="79" y2="407"/>
<line x1="57" y1="393" x2="79" y2="407"/>
<circle cx="49" cy="379" r="4" fill="#fff"/><circle cx="73" cy="380" r="4" fill="#fff"/>
<circle cx="57" cy="393" r="4" fill="#fff"/><circle cx="43" cy="413" r="4" fill="#fff"/>
<circle cx="79" cy="407" r="4" fill="#fff"/>
<!-- fib -->
<line x1="45" y1="453" x2="80" y2="453"/><circle cx="41" cy="453" r="4"/>
<line x1="49" y1="469" x2="77" y2="456" stroke-dasharray="2.5 3"/>
<line x1="45" y1="473" x2="73" y2="473"/><circle cx="41" cy="473" r="4"/><circle cx="77" cy="473" r="4"/>
<line x1="45" y1="485" x2="80" y2="485"/><circle cx="41" cy="485" r="4"/>
<!-- brush -->
<path d="M36.8 557.2 H55.5 A10.3 10.3 0 1 0 48 540.3 C 46 545, 42 552, 36.8 557.2 Z" stroke-linejoin="round"/>
<path d="M68.8 524.6 L66 527.3 Q64.3 529.5 66.3 531.7 L70.6 536.2 Q72.3 537.8 74.2 536.2 L86.6 524.6"/>
<!-- T -->
<path d="M46.5 601.5 V595.5 H75 V601.5"/>
<line x1="60.5" y1="595.5" x2="60.5" y2="629"/>
<line x1="56" y1="629" x2="66" y2="629"/>
<!-- smiley -->
<circle cx="60" cy="683.5" r="21"/>
<path d="M53.5 688.5 Q60 695, 66.5 688.5"/>
<circle cx="55" cy="681" r="1.6" fill="#131722" stroke="none"/><circle cx="65" cy="681" r="1.6" fill="#131722" stroke="none"/>
<!-- ruler -->
<g transform="translate(59.9 781.8) rotate(-44.3)">
<rect x="-25.3" y="-7" width="50.6" height="14" rx="2.5"/>
<line x1="-17" y1="-7" x2="-17" y2="-1.5"/>
<line x1="-8.5" y1="-7" x2="-8.5" y2="1.5"/>
<line x1="0" y1="-7" x2="0" y2="-1.5"/>
<line x1="8.5" y1="-7" x2="8.5" y2="1.5"/>
<line x1="17" y1="-7" x2="17" y2="-1.5"/>
</g>
<!-- zoom -->
<circle cx="57" cy="850.5" r="16"/>
<line x1="50" y1="850.5" x2="64" y2="850.5"/><line x1="57" y1="843.5" x2="57" y2="857.5"/>
<line x1="68.5" y1="862" x2="76" y2="869.5"/>
</g>
<!-- dividers -->
<line x1="24" y1="733" x2="96" y2="733" stroke="#d6d8e2" stroke-width="1.5"/>
<line x1="24" y1="903" x2="96" y2="903" stroke="#d6d8e2" stroke-width="1.5"/>
<!-- collapse handle -->
<rect x="101.5" y="763.5" width="14" height="51" rx="7" fill="#fff" stroke="#d9dbe6" stroke-width="1.5"/>
<path d="M110.5 784 L107.5 789.5 L110.5 795" stroke="#a3a6b4" stroke-width="1.3"/>
<!-- fullscreen icon -->
<rect x="1601.3" y="45.3" width="29.4" height="29.4" rx="4" stroke="#1e2026" stroke-width="2.6"/>
<path d="M1619.5 56.5 L1625.5 50.5 M1619.5 50 H1626 V56.5" stroke="#1e2026" stroke-width="2.6" stroke-linecap="round" stroke-linejoin="round"/>
<path d="M1612.5 63.5 L1606.5 69.5 M1606.5 63.5 V70 H1613" stroke="#1e2026" stroke-width="2.6" stroke-linecap="round" stroke-linejoin="round"/>
<!-- gear hexagon -->
<path d="M1567.4 892.9 H1582.6 L1588.8 905 L1582.6 916.9 H1567.4 L1561 905 Z" stroke="#131722" stroke-width="1.7" stroke-linejoin="round"/>
<circle cx="1575" cy="905" r="4.1" stroke="#131722" stroke-width="1.7"/>
<!-- TV logo circle -->
<circle cx="176.8" cy="817.5" r="33" fill="#fff" stroke="#d8dbe6" stroke-width="1.8"/>
</g>
<g fill="#131722">
<path d="M156 808.1 H173.8 V829.7 H166 V815.7 H156 Z"/>
<circle cx="180" cy="811.9" r="4"/>
<path d="M188.6 808.2 H198.7 L190.1 829.7 H180.1 Z"/>
</g>
<!-- collapse legend button -->
<rect x="139" y="427" width="56" height="40" rx="6" fill="rgba(255,255,255,0.75)" stroke="#c6c8d6" stroke-width="1.6"/>
<path d="M159.8 450.3 L167.2 443.6 L174 450.3" fill="none" stroke="#131722" stroke-width="2.2" stroke-linecap="round" stroke-linejoin="round"/>
</svg>

<!-- price axis -->
<div class="t" style="left:1516.3px;top:453.2px;font-size:25px;letter-spacing:1.00px;color:#131722">0.00600</div>
<div class="abs" style="left:1500px;top:438px;width:123.6px;height:34px;background:#3a8b72;border-radius:0 3px 3px 0"></div>
<div class="abs" style="left:1500px;top:842px;width:125.8px;height:34px;background:#45a088;border-radius:0 3px 3px 0"></div>
<div class="t" style="left:1516.4px;top:169.4px;font-size:25px;letter-spacing:1.00px;color:#131722">0.01200</div>
<div class="t" style="left:1516.3px;top:264.4px;font-size:25px;letter-spacing:1.00px;color:#131722">0.01000</div>
<div class="t" style="left:1516.3px;top:358.4px;font-size:25px;letter-spacing:1.00px;color:#131722">0.00800</div>
<div class="t" style="left:1516.7px;top:547.3px;font-size:25px;letter-spacing:0.90px;color:#131722">0.00400</div>
<div class="t" style="left:1516.5px;top:442.2px;font-size:25px;letter-spacing:0.57px;color:#ffffff">0.00621</div>
<div class="t" style="left:1517.2px;top:631.1px;font-size:25px;letter-spacing:0.50px;color:#131722">20M</div>
<div class="t" style="left:1516.7px;top:746.2px;font-size:25px;letter-spacing:0.90px;color:#131722">10M</div>
<div class="t" style="left:1517.0px;top:846.0px;font-size:25px;letter-spacing:0.57px;color:#ffffff">13.528K</div>
<div class="t" style="left:178.2px;top:894.0px;font-size:24px;font-weight:bold;letter-spacing:4.80px;color:#131722">9月</div>
<div class="t" style="left:352.9px;top:894.0px;font-size:24px;letter-spacing:0.90px;color:#131722">15</div>
<div class="t" style="left:531.9px;top:894.0px;font-size:24px;font-weight:bold;letter-spacing:2.05px;color:#131722">10月</div>
<div class="t" style="left:711.9px;top:894.0px;font-size:24px;letter-spacing:0.90px;color:#131722">15</div>
<div class="t" style="left:903.9px;top:894.0px;font-size:24px;font-weight:bold;letter-spacing:3.00px;color:#131722">11月</div>
<div class="t" style="left:1083.9px;top:894.0px;font-size:24px;letter-spacing:0.90px;color:#131722">15</div>
<div class="t" style="left:1263.9px;top:894.0px;font-size:24px;font-weight:bold;letter-spacing:2.05px;color:#131722">12月</div>
<div class="t" style="left:1443.9px;top:894.0px;font-size:24px;letter-spacing:0.90px;color:#131722">15</div>
</body></html>
